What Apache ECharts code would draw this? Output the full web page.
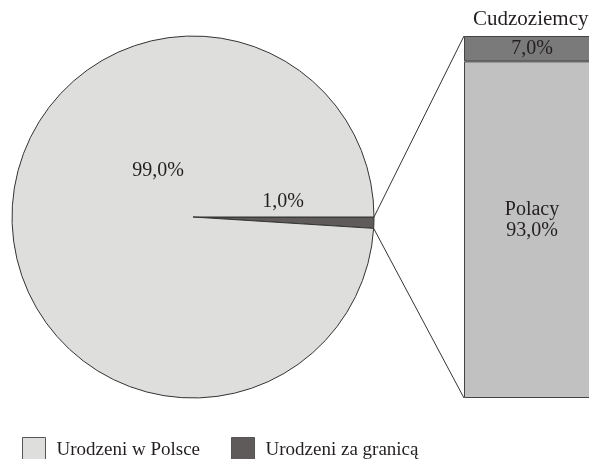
<!DOCTYPE html>
<html><head><meta charset="utf-8">
<script src="https://cdn.jsdelivr.net/npm/echarts@6/dist/echarts.min.js"></script>
<style>html,body{margin:0;padding:0;background:#fff;overflow:hidden}#c{width:589px;height:459px}</style>
</head><body><div id="c"></div>
<script>
const pieNames = ['Urodzeni za granicą', 'Urodzeni w Polsce'];
const pieValues = [1.0, 99.0];
const pieLabels = ['1,0%', '99,0%'];
const barCategories = ['Urodzeni za granicą'];
const polacyValues = [93.0];
const cudzoziemcyValues = [7.0];
const barNames = ['Polacy', 'Cudzoziemcy'];
const barLabels = ['93,0%', '7,0%'];

const FONT = "'Liberation Serif','Times New Roman',serif";
const TXT = '#231f20';
const LIGHT = '#dededd';
const DARK = '#5f5b5a';
const PIE_C = [193, 217], PIE_R = 181;
const BAR_LEFT = 464, BAR_W = 136, LABEL_CX = 532;
// label anchor offsets from the pie centre (layout only)
const PIE_LABEL_POS = [[90, -15], [-35, -46]];

const chart = echarts.init(document.getElementById('c'));
chart.setOption({
  animation: false,
  title: {
    text: barNames[1], left: 473, top: 9, padding: 0,
    textStyle: { fontFamily: FONT, fontSize: 21, fontWeight: 'normal', color: TXT }
  },
  legend: {
    data: [pieNames[1], pieNames[0]],
    left: 17, top: 432, itemWidth: 23, itemHeight: 25, itemGap: 31,
    icon: 'rect',
    textStyle: { fontFamily: FONT, fontSize: 19, color: TXT, padding: [0, 0, 0, 6] },
    itemStyle: { borderColor: '#555', borderWidth: 1 }
  },
  grid: { left: BAR_LEFT, top: 36, width: BAR_W, height: 362, outerBoundsMode: 'none' },
  xAxis: { type: 'category', data: barCategories, show: false },
  yAxis: { type: 'value', min: 0, max: 100, show: false },
  series: [
    {
      type: 'pie', center: PIE_C, radius: PIE_R, startAngle: 0, clockwise: true,
      data: pieNames.map((n, i) => ({ name: n, value: pieValues[i],
        itemStyle: { color: i === 0 ? DARK : LIGHT } })),
      itemStyle: { borderColor: '#333', borderWidth: 1 },
      label: { show: true, position: 'inside', formatter: p => pieLabels[p.dataIndex],
        fontFamily: FONT, fontSize: 20, color: TXT },
      labelLine: { show: false },
      labelLayout: p => ({
        x: PIE_C[0] + PIE_LABEL_POS[p.dataIndex][0],
        y: PIE_C[1] + PIE_LABEL_POS[p.dataIndex][1],
        align: 'center', verticalAlign: 'middle'
      }),
      emphasis: { disabled: true }
    },
    {
      type: 'bar', name: barNames[0], stack: 's', barWidth: '100%', data: polacyValues,
      itemStyle: { color: '#c1c1c1', borderColor: '#444', borderWidth: 1 },
      label: { show: true, position: 'inside', offset: [LABEL_CX - (BAR_LEFT + BAR_W / 2), -9],
        formatter: () => barNames[0] + '\n' + barLabels[0], lineHeight: 21,
        fontFamily: FONT, fontSize: 20, color: TXT },
      emphasis: { disabled: true }
    },
    {
      type: 'bar', name: barNames[1], stack: 's', barWidth: '100%', data: cudzoziemcyValues,
      itemStyle: { color: '#7a7a7a', borderColor: '#444', borderWidth: 1 },
      label: { show: true, position: 'inside', offset: [LABEL_CX - (BAR_LEFT + BAR_W / 2), 0],
        formatter: () => barLabels[1],
        fontFamily: FONT, fontSize: 20, color: TXT },
      emphasis: { disabled: true }
    }
  ]
});

// connector lines from the small slice edges to the bar corners
const total = pieValues.reduce((a, b) => a + b, 0);
const ang = pieValues[0] / total * 2 * Math.PI;
const p1 = [PIE_C[0] + PIE_R, PIE_C[1]];
const p2 = [PIE_C[0] + PIE_R * Math.cos(ang), PIE_C[1] + PIE_R * Math.sin(ang)];
const topPt = chart.convertToPixel({ gridIndex: 0 }, [0, polacyValues[0] + cudzoziemcyValues[0]]);
const botPt = chart.convertToPixel({ gridIndex: 0 }, [0, 0]);
chart.setOption({
  graphic: [
    { type: 'line', shape: { x1: p1[0], y1: p1[1], x2: BAR_LEFT, y2: topPt[1] }, style: { stroke: '#333', lineWidth: 1 }, z: 10 },
    { type: 'line', shape: { x1: p2[0], y1: p2[1], x2: BAR_LEFT, y2: botPt[1] }, style: { stroke: '#333', lineWidth: 1 }, z: 10 }
  ]
});
</script></body></html>
